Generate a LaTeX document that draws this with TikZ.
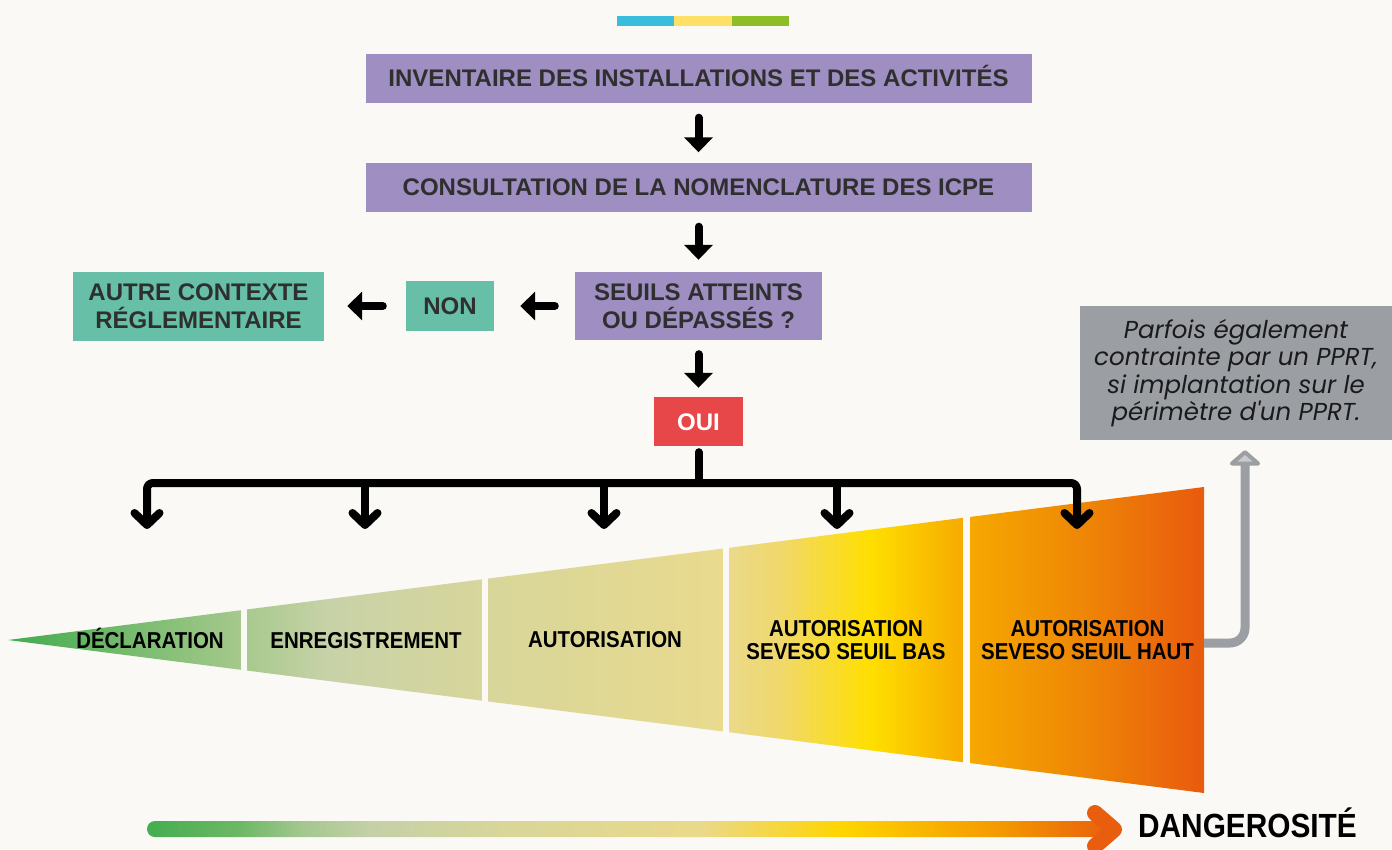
\documentclass[tikz,border=0pt]{standalone}
\usepackage{fontspec}
\setmainfont{Liberation Sans}
\newfontfamily\condfont[FakeStretch=0.89]{Liberation Sans}
\newfontfamily\notefont{Poppins}
\usetikzlibrary{arrows.meta}
\definecolor{bg}{HTML}{FAF9F5}
\definecolor{barblue}{HTML}{3ABDDC}
\definecolor{baryel}{HTML}{FFE066}
\definecolor{bargreen}{HTML}{8DBE25}
\definecolor{purp}{HTML}{9F8EC1}
\definecolor{txt}{HTML}{2F2F2F}
\definecolor{tealbox}{HTML}{66BFA6}
\definecolor{ouired}{HTML}{E8474A}
\definecolor{grayA}{HTML}{9B9EA3}
\definecolor{grayL}{HTML}{C9CACC}
\definecolor{noteT}{HTML}{1A1A1A}
\definecolor{headcol}{HTML}{E95D0E}
\definecolor{wa}{HTML}{43AB4E}
\definecolor{wb}{HTML}{A6C98C}
\definecolor{wc}{HTML}{C8D2A8}
\definecolor{wd}{HTML}{D7D69B}
\definecolor{we}{HTML}{E9DA8E}
\definecolor{wf}{HTML}{F0D86C}
\definecolor{wg}{HTML}{FFDF00}
\definecolor{wh}{HTML}{F6AA00}
\definecolor{wj}{HTML}{EE8506}
\definecolor{wk}{HTML}{E85A0E}
\definecolor{aa}{HTML}{45AD4F}
\definecolor{ab}{HTML}{6DB866}
\definecolor{ac}{HTML}{A3C68E}
\definecolor{ad}{HTML}{C5D0A7}
\definecolor{ae}{HTML}{D8D699}
\definecolor{af}{HTML}{EAD98A}
\definecolor{ag}{HTML}{FFD500}
\definecolor{ah}{HTML}{F49800}
\definecolor{ai}{HTML}{E95E0D}
\pgfdeclarehorizontalshading{wedgeshade}{100bp}{color(0bp)=(wa); color(25bp)=(wa); color(34.74bp)=(wb); color(38.46bp)=(wc); color(44.77bp)=(wd); color(54.85bp)=(we); color(57.27bp)=(wf); color(61.04bp)=(wg); color(64.93bp)=(wh); color(70.1bp)=(wj); color(75bp)=(wk); color(100bp)=(wk)}
\pgfdeclarehorizontalshading{arrowshade}{100bp}{color(0bp)=(aa); color(25bp)=(aa); color(29.83bp)=(ab); color(32.94bp)=(ac); color(36.58bp)=(ad); color(43.33bp)=(ae); color(53.71bp)=(af); color(60.98bp)=(ag); color(69.29bp)=(ah); color(75bp)=(ai); color(100bp)=(ai)}
\begin{document}
\begin{tikzpicture}[x=1pt,y=-1pt,
  box/.style={fill=purp, text=txt, inner sep=0pt, font=\bfseries\fontsize{24}{27.5}\selectfont, align=center},
  oneline/.style={text height=17pt, text depth=0pt},
  flow/.style={line width=8pt, line cap=round, -{Triangle[width=28pt,length=15pt]}},
  tree/.style={line width=8pt, line cap=round, line join=round, rounded corners=6pt, -{Straight Barb[width=25pt,length=12pt,round]}},
  wlabel/.style={font=\condfont\bfseries\fontsize{23}{22.7}\selectfont, text=black, align=center, inner sep=0pt},
  gline/.style={line width=9pt, draw=grayA, rounded corners=15pt, -{Triangle[width=36pt,length=16pt,round,fill=grayL,line width=4.5pt]}}
]
\useasboundingbox (0,0) rectangle (1392,849);
\fill[bg] (0,0) rectangle (1392,849);
% top colour bar
\fill[barblue] (617,16) rectangle (674,26);
\fill[baryel] (674,16) rectangle (732,26);
\fill[bargreen] (732,16) rectangle (789,26);
% boxes
\node[box, oneline, minimum width=666pt, minimum height=49pt] (inv) at (698.5,78) {INVENTAIRE DES INSTALLATIONS ET DES ACTIVITÉS};
\node[box, oneline, minimum width=666pt, minimum height=49pt] (cons) at (698.5,187) {CONSULTATION DE LA NOMENCLATURE DES ICPE};
\node[box, minimum width=247pt, minimum height=68pt] (seuil) at (698.5,306) {SEUILS ATTEINTS\\OU DÉPASSÉS ?};
\node[box, oneline, fill=tealbox, minimum width=88pt, minimum height=50pt] (non) at (450,306) {NON};
\node[box, fill=tealbox, minimum width=251pt, minimum height=69pt] (autre) at (198.5,306) {AUTRE CONTEXTE\\RÉGLEMENTAIRE};
\node[box, oneline, fill=ouired, text=white, minimum width=89pt, minimum height=49pt] (oui) at (698.5,421.5) {OUI};
% flow arrows
\draw[flow, shorten <=15pt, shorten >=10pt] (inv) -- (cons);
\draw[flow, shorten <=15pt, shorten >=12pt] (cons) -- (seuil);
\draw[flow, shorten <=14pt, shorten >=9pt] (seuil) -- (oui);
\draw[flow, shorten <=20pt, shorten >=26pt] (seuil) -- (non);
\draw[flow, shorten <=23pt, shorten >=23pt] (non) -- (autre);
% wedge
\shade[shading=wedgeshade] (8,640) -- (1204,487) -- (1204,793) -- cycle;
\foreach \gx in {244,485,726,966.7} \draw[bg, line width=6.6pt] (\gx,500) -- (\gx,790);
% tree
\coordinate (hub) at (698.5,483);
\coordinate (d1) at (147,529);
\coordinate (d2) at (365,529);
\coordinate (d3) at (604,529);
\coordinate (d4) at (837,529);
\coordinate (d5) at (1077,529);
\draw[line width=8pt, line cap=round, shorten <=6pt] (oui) -- (hub);
\draw[tree] (hub) -| (d1);
\draw[tree] (hub) -| (d5);
\draw[tree] (d2 |- hub) -- (d2);
\draw[tree] (d3 |- hub) -- (d3);
\draw[tree] (d4 |- hub) -- (d4);
% wedge labels
\node[wlabel, text height=16.5pt, text depth=0pt] (w1) at (150,640) {DÉCLARATION};
\node[wlabel, text height=16.5pt, text depth=0pt] (w2) at (366,640) {ENREGISTREMENT};
\node[wlabel, text height=16.5pt, text depth=0pt] (w3) at (605,639.5) {AUTORISATION};
\node[wlabel] (w4) at (846,640) {AUTORISATION\\SEVESO SEUIL BAS};
\node[wlabel] (w5) at (1087.5,640) {AUTORISATION\\SEVESO SEUIL HAUT};
% note
\node[fill=grayA, text=noteT, inner sep=0pt, minimum width=312pt, minimum height=134pt, align=center, font=\notefont\itshape\fontsize{24.5}{27.3}\selectfont] (note) at (1236,373) {Parfois également\\contrainte par un PPRT,\\si implantation sur le\\périmètre d'un PPRT.};
\coordinate (s5) at (1204,643);
\draw[gline, shorten >=10pt] (s5) -| ([xshift=9pt]note.south);
% bottom arrow
\shade[shading=arrowshade, rounded corners=8pt] (147,821) rectangle (1112,837);
\draw[headcol, line width=16pt, line cap=round, line join=round] (1095,813) -- (1114,829.5) -- (1095,846);
\node[font=\condfont\bfseries\fontsize{33.5}{36}\selectfont, anchor=base, inner sep=0pt] (dang) at (1247.5,837) {DANGEROSITÉ};
\end{tikzpicture}
\end{document}
